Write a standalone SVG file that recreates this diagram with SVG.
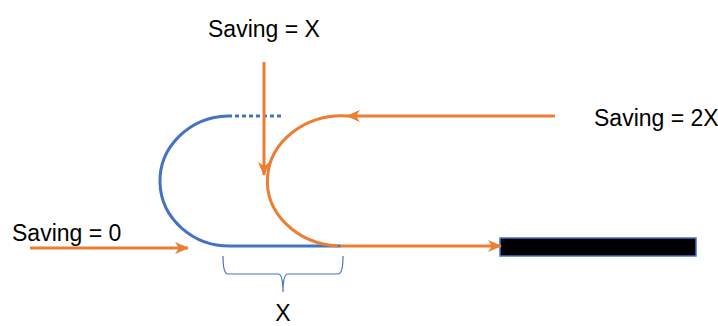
<svg xmlns="http://www.w3.org/2000/svg" width="718" height="326" viewBox="0 0 718 326">
<style>
.t{font-family:"Liberation Sans",Arial,sans-serif;font-size:23px;fill:#000}
.o{stroke:#ED7D31;stroke-width:3;fill:none}
.b{stroke:#4472C4;stroke-width:3;fill:none}
</style>
<defs>
<marker id="ah" markerWidth="14" markerHeight="12" refX="13" refY="6" orient="auto" markerUnits="userSpaceOnUse">
<path d="M0,0 L14,6 L0,12 L4,6 Z" fill="#ED7D31"/>
</marker>
</defs>
<g id="labels">
<text class="t" x="208" y="37">Saving = X</text>
<text class="t" x="594" y="126">Saving = 2X</text>
<text class="t" x="12" y="241">Saving = 0</text>
<text class="t" x="283" y="321" text-anchor="middle">X</text>
</g>
<g id="blue-loop">
<path class="b" d="M228,116 A70,65 0 0 0 232,246"/>
<line class="b" x1="228" y1="116" x2="284" y2="116" stroke-dasharray="4,3"/>
<line class="b" x1="232" y1="246" x2="341" y2="246"/>
</g>
<g id="orange-loop">
<path class="o" d="M347,116 A75,65 0 0 0 338,246"/>
</g>
<g id="bracket">
<path d="M223,256 Q223,274 228,274 L278,274 Q283,274 283,292 Q283,274 288,274 L338,274 Q343,274 343,256" stroke="#4472C4" stroke-width="1.2" fill="none"/>
</g>
<g id="block">
<rect x="500" y="238" width="196" height="18" fill="#000" stroke="#4472C4" stroke-width="1.5"/>
</g>
<g id="connectors">
<line class="o" x1="264" y1="62" x2="264" y2="175" marker-end="url(#ah)"/>
<line class="o" x1="555" y1="116" x2="347" y2="116" marker-end="url(#ah)"/>
<line class="o" x1="30" y1="248" x2="188" y2="248" marker-end="url(#ah)"/>
<line class="o" x1="340" y1="246" x2="501" y2="246" marker-end="url(#ah)"/>
</g>
</svg>
